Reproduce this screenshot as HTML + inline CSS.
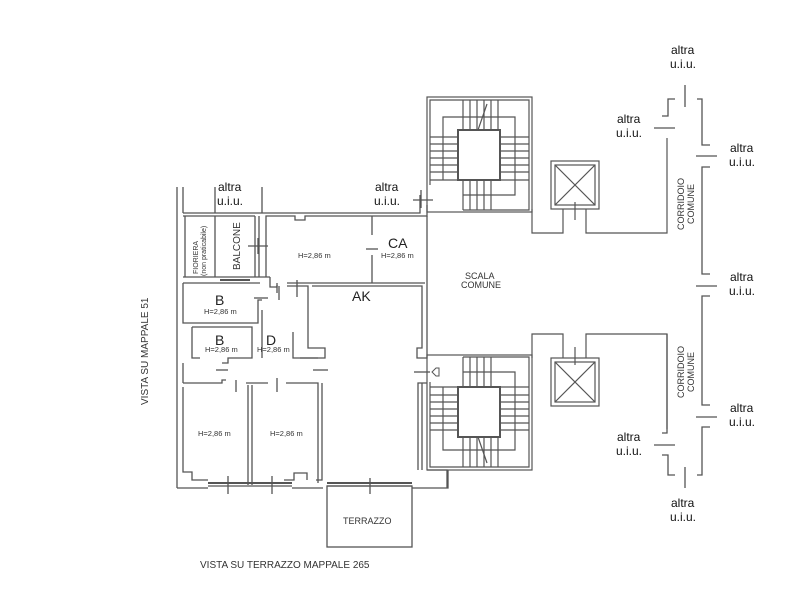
<!DOCTYPE html>
<html><head><meta charset="utf-8"><style>
html,body{margin:0;padding:0;background:#fff;}
svg{display:block;}
text{font-family:"Liberation Sans",sans-serif;}
</style></head><body>
<svg width="800" height="597" viewBox="0 0 800 597" xmlns="http://www.w3.org/2000/svg">
<g fill="none" stroke="#555" stroke-width="1.3">
<!-- left outer wall -->
<line x1="177" y1="187" x2="177" y2="488"/>
<line x1="183" y1="187" x2="183" y2="213"/>
<line x1="215" y1="187" x2="215" y2="213"/>
<line x1="262" y1="187" x2="262" y2="213"/>
<line x1="183" y1="213" x2="262" y2="213"/>
<line x1="183" y1="216" x2="255" y2="216"/>
<line x1="215" y1="216" x2="215" y2="277"/>
<line x1="185" y1="216" x2="185" y2="277"/>
<line x1="255" y1="216" x2="255" y2="277"/>
<line x1="259" y1="216" x2="259" y2="277"/>
<line x1="248" y1="246" x2="268" y2="246"/>
<line x1="258" y1="238" x2="258" y2="254"/>
<line x1="183" y1="277" x2="270" y2="277"/>
<line x1="220" y1="280" x2="250" y2="280" stroke-width="2"/>
<!-- top wall -->
<polyline points="262,213 420,213 420,195"/>
<polyline points="266,277 266,216 295,216 295,220 305,220 305,216 427,216 427,205"/>
<line x1="413" y1="200" x2="433" y2="200"/>
<line x1="421" y1="190" x2="421" y2="208"/>
<polyline points="270,277 270,287 277,287 277,283"/>
<line x1="277" y1="285" x2="277" y2="293"/>
<line x1="279" y1="286" x2="279" y2="300"/>
<!-- CA -->
<line x1="372" y1="216" x2="372" y2="235"/>
<line x1="372" y1="255" x2="372" y2="283"/>
<line x1="366" y1="249" x2="378" y2="249"/>
<polyline points="287,283 425,283"/>
<polyline points="287,286 308,286 308,348 325,348 325,358 300,358"/>
<polyline points="312,286 422,286 422,348 417,348 417,358 427,358 427,216"/>
<line x1="297" y1="280" x2="297" y2="297"/>
<!-- B rooms -->
<polyline points="183,283 260,283"/>
<polyline points="183,283 183,323 258,323 258,300 262,300"/>
<line x1="254" y1="298" x2="268" y2="298"/>
<polyline points="192,327 252,327 252,358 228,358 228,363 222,363"/>
<polyline points="192,327 192,358 200,358"/>
<polyline points="262,310 262,358"/>
<polyline points="293,332 293,358 318,358"/>
<line x1="183" y1="363" x2="183" y2="383"/>
<line x1="216" y1="370" x2="228" y2="370"/>
<line x1="313" y1="370" x2="328" y2="370"/>
<!-- corridor wall -->
<polyline points="183,383 222,383 222,380 226,380"/>
<line x1="236" y1="380" x2="236" y2="392"/>
<polyline points="246,383 268,383"/>
<line x1="277" y1="378" x2="277" y2="392"/>
<polyline points="286,383 318,383 318,483"/>
<!-- bottom rooms -->
<polyline points="183,387 183,472 192,472 192,480 208,480"/>
<line x1="248" y1="385" x2="248" y2="485"/>
<line x1="252" y1="385" x2="252" y2="485"/>
<polyline points="322,383 322,480 316,480"/>
<polyline points="284,480 294,480 294,473 307,473 307,480"/>
<line x1="208" y1="483" x2="292" y2="483" stroke-width="2"/>
<line x1="208" y1="486" x2="292" y2="486"/>
<line x1="228" y1="476" x2="228" y2="494"/>
<line x1="272" y1="476" x2="272" y2="494"/>
<polyline points="177,488 208,488"/>
<polyline points="292,488 323,488"/>
<line x1="327" y1="483" x2="412" y2="483" stroke-width="2"/>
<line x1="327" y1="486" x2="412" y2="486"/>
<line x1="370" y1="478" x2="370" y2="494"/>
<polyline points="412,488 448,488 448,470"/>
<!-- terrazzo -->
<rect x="327" y="486" width="85" height="61"/>
<!-- right entrance -->
<line x1="414" y1="372" x2="430" y2="372"/>
<polyline points="418,470 418,383 427,383"/>
<line x1="422" y1="383" x2="422" y2="470"/>
<polyline points="427,470 447,470 447,488"/>
</g>
<path d="M436,368 l-4,4 l4,4 l3,0 l0,-8 z" fill="none" stroke="#555"/>
<!-- stairs and lifts -->
<g id="st" fill="none" stroke="#555" stroke-width="1.2">
<rect x="427" y="97" width="105" height="115"/>
<polyline points="430,185 430,100 529,100 529,210 463,210"/>
<rect x="458" y="130" width="42" height="50" stroke-width="2"/>
<polyline points="443,180 443,117 515,117 515,195 463,195"/>
<line x1="463" y1="180" x2="463" y2="210"/>
<path d="M463,100v30M470,100v30M477,100v30M484,100v30M491,100v30M498,100v30"/>
<path d="M430,137h28M430,144h28M430,151h28M430,158h28M430,165h28M430,172h28M430,180h28"/>
<path d="M500,137h29M500,144h29M500,151h29M500,158h29M500,165h29M500,172h29M500,180h29"/>
<path d="M470,180v30M477,180v30M484,180v30M491,180v30"/>
<line x1="478" y1="130" x2="487" y2="104"/>
<rect x="551" y="161" width="48" height="48"/>
<rect x="555" y="165" width="40" height="40"/>
<line x1="555" y1="165" x2="595" y2="205"/>
<line x1="595" y1="165" x2="555" y2="205"/>
<polyline points="532,209 532,233 563,233 563,209"/>
<polyline points="586,209 586,233 667,233 667,138"/>
<line x1="575" y1="202" x2="575" y2="220"/>
</g>
<use href="#st" transform="translate(0,567) scale(1,-1)"/>
<!-- right corridors -->
<g fill="none" stroke="#555" stroke-width="1.3">
<polyline points="662,116 668,116 668,99 675,99"/>
<line x1="654" y1="128" x2="675" y2="128"/>
<line x1="685" y1="85" x2="685" y2="107"/>
<polyline points="697,99 702,99 702,145 710,145"/>
<line x1="696" y1="156" x2="717" y2="156"/>
<polyline points="710,167 702,167 702,274 710,274"/>
<line x1="696" y1="286" x2="717" y2="286"/>
<polyline points="710,296 702,296 702,405 710,405"/>
<line x1="696" y1="417" x2="717" y2="417"/>
<polyline points="710,427 702,427 702,475 697,475"/>
<polyline points="662,433 667,433 667,334"/>
<line x1="654" y1="445" x2="675" y2="445"/>
<polyline points="662,455 668,455 668,475 675,475"/>
<line x1="685" y1="467" x2="685" y2="488"/>
</g>
<!-- text -->
<g fill="#111" font-size="12">
<text x="218" y="191">altra</text><text x="217" y="205">u.i.u.</text>
<text x="375" y="191">altra</text><text x="374" y="205">u.i.u.</text>
<text x="671" y="54">altra</text><text x="670" y="68">u.i.u.</text>
<text x="617" y="123">altra</text><text x="616" y="137">u.i.u.</text>
<text x="730" y="152">altra</text><text x="729" y="166">u.i.u.</text>
<text x="730" y="281">altra</text><text x="729" y="295">u.i.u.</text>
<text x="730" y="412">altra</text><text x="729" y="426">u.i.u.</text>
<text x="617" y="441">altra</text><text x="616" y="455">u.i.u.</text>
<text x="671" y="507">altra</text><text x="670" y="521">u.i.u.</text>
</g>
<g fill="#222" font-size="14">
<text x="215" y="305">B</text><text x="215" y="345">B</text>
<text x="266" y="345">D</text><text x="388" y="248">CA</text>
<text x="352" y="301">AK</text>
</g>
<g fill="#333" font-size="7.5">
<text x="204" y="314">H=2,86 m</text><text x="205" y="352">H=2,86 m</text>
<text x="257" y="352">H=2,86 m</text><text x="298" y="258">H=2,86 m</text>
<text x="381" y="258">H=2,86 m</text><text x="198" y="436">H=2,86 m</text>
<text x="270" y="436">H=2,86 m</text>
</g>
<g fill="#333" font-size="9">
<text x="465" y="279">SCALA</text><text x="461" y="288">COMUNE</text>
<text x="343" y="524">TERRAZZO</text>
<text x="200" y="568" font-size="10">VISTA SU TERRAZZO MAPPALE 265</text>
<text transform="translate(148,405) rotate(-90)" font-size="10">VISTA SU MAPPALE 51</text>
<text transform="translate(684,230) rotate(-90)">CORRIDOIO</text>
<text transform="translate(694,224) rotate(-90)">COMUNE</text>
<text transform="translate(684,398) rotate(-90)">CORRIDOIO</text>
<text transform="translate(694,392) rotate(-90)">COMUNE</text>
<text transform="translate(198,274) rotate(-90)" font-size="7">FIORIERA</text>
<text transform="translate(206,276) rotate(-90)" font-size="7">(non praticabile)</text>
<text transform="translate(240,270) rotate(-90)" font-size="10">BALCONE</text>
</g>
</svg>
</body></html>
